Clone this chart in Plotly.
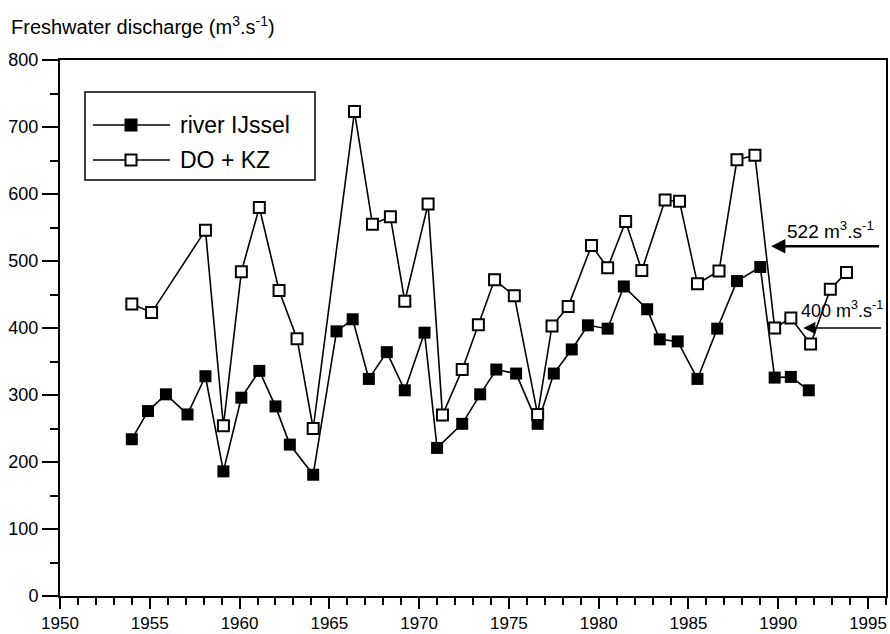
import plotly.graph_objects as go

# river IJssel (filled squares)
ijssel_year = [1954.0, 1954.9, 1955.9, 1957.1, 1958.1, 1959.1, 1960.1, 1961.1, 1962.0, 1962.8,
               1964.1, 1965.4, 1966.3, 1967.2, 1968.2, 1969.2, 1970.3, 1971.0, 1972.4, 1973.4,
               1974.3, 1975.4, 1976.6, 1977.5, 1978.5, 1979.4, 1980.5, 1981.4, 1982.7, 1983.4,
               1984.4, 1985.5, 1986.6, 1987.7, 1989.0, 1989.8, 1990.7, 1991.7]
ijssel_flow = [234, 276, 301, 271, 328, 186, 296, 336, 283, 226,
               181, 395, 413, 324, 364, 307, 393, 221, 257, 301,
               338, 332, 257, 332, 368, 404, 399, 462, 428, 383,
               380, 324, 399, 470, 491, 326, 327, 307]

# DO + KZ (open squares)
dokz_year = [1954.0, 1955.1, 1958.1, 1959.1, 1960.1, 1961.1, 1962.2, 1963.2, 1964.1, 1966.4,
             1967.4, 1968.4, 1969.2, 1970.5, 1971.3, 1972.4, 1973.3, 1974.2, 1975.3, 1976.6,
             1977.4, 1978.3, 1979.6, 1980.5, 1981.5, 1982.4, 1983.7, 1984.5, 1985.5, 1986.7,
             1987.7, 1988.7, 1989.8, 1990.7, 1991.8, 1992.9, 1993.8]
dokz_flow = [436, 423, 546, 254, 484, 580, 456, 384, 250, 723,
             555, 566, 440, 585, 270, 338, 405, 472, 448, 271,
             403, 432, 523, 490, 559, 486, 591, 589, 466, 485,
             651, 658, 400, 415, 376, 458, 483]

# reference levels marked by arrows
ref_levels = [522, 400]
ref_labels = ["522 m<sup>3</sup>.s<sup>-1</sup>", "400 m<sup>3</sup>.s<sup>-1</sup>"]

FONT = "Liberation Sans, Arial, Helvetica, sans-serif"

fig = go.Figure()

fig.add_trace(go.Scatter(
    x=ijssel_year, y=ijssel_flow, mode="lines+markers", name="river IJssel",
    line=dict(color="black", width=1.6),
    marker=dict(symbol="square", size=12, color="black"),
    showlegend=False,
))
fig.add_trace(go.Scatter(
    x=dokz_year, y=dokz_flow, mode="lines+markers", name="DO + KZ",
    line=dict(color="black", width=1.6),
    marker=dict(symbol="square", size=11, color="white", line=dict(color="black", width=2)),
    showlegend=False,
))

# hand-drawn style legend (pixel positions converted to paper coords)
def px(x):
    return (x - 60) / 826

def py(y):
    return (596 - y) / 536

shapes = [dict(type="rect", xref="paper", yref="paper", x0=px(85), x1=px(315), y0=py(180), y1=py(92),
               line=dict(color="black", width=1.5), fillcolor="white", layer="above")]
for row_y, filled in [(125, True), (160, False)]:
    shapes.append(dict(type="line", xref="paper", yref="paper", x0=px(93), x1=px(170),
                       y0=py(row_y), y1=py(row_y), line=dict(color="black", width=1.6), layer="above"))
    half = 6.5 if filled else 5.5
    shapes.append(dict(type="rect", xref="paper", yref="paper", xsizemode="pixel", ysizemode="pixel",
                       xanchor=px(131), yanchor=py(row_y), x0=-half, x1=half, y0=-half, y1=half,
                       fillcolor="black" if filled else "white",
                       line=dict(color="black", width=0 if filled else 2), layer="above"))

annotations = [
    dict(xref="paper", yref="paper", x=px(178), y=py(125), text="river IJssel", showarrow=False,
         xanchor="left", yanchor="middle", font=dict(size=23, color="black", family=FONT)),
    dict(xref="paper", yref="paper", x=px(178), y=py(160), text="DO + KZ", showarrow=False,
         xanchor="left", yanchor="middle", font=dict(size=23, color="black", family=FONT)),
    # arrows
    dict(x=1989.6, y=ref_levels[0], ax=1995.7, ay=ref_levels[0], xref="x", yref="y", axref="x", ayref="y",
         text="", showarrow=True, arrowhead=2, arrowsize=1.1, arrowwidth=2.6, arrowcolor="black"),
    dict(x=1991.4, y=ref_levels[1], ax=1995.8, ay=ref_levels[1], xref="x", yref="y", axref="x", ayref="y",
         text="", showarrow=True, arrowhead=2, arrowsize=1.6, arrowwidth=1.5, arrowcolor="black"),
    dict(x=1992.9, y=ref_levels[0] + 4, xref="x", yref="y", text=ref_labels[0], showarrow=False,
         xanchor="center", yanchor="bottom", font=dict(size=19, color="black", family=FONT)),
    dict(x=1993.55, y=ref_levels[1] + 8, xref="x", yref="y", text=ref_labels[1], showarrow=False,
         xanchor="center", yanchor="bottom", font=dict(size=18, color="black", family=FONT)),
]

fig.update_layout(
    width=890, height=634,
    margin=dict(l=60, r=4, t=60, b=38),
    paper_bgcolor="white", plot_bgcolor="white",
    font=dict(family=FONT, size=18, color="black"),
    title=dict(text="Freshwater discharge (m<sup>3</sup>.s<sup>-1</sup>)", x=11 / 890, xanchor="left",
               y=1 - 27 / 634, yanchor="middle", font=dict(size=20, family=FONT, color="black")),
    shapes=shapes, annotations=annotations,
)

fig.update_xaxes(
    range=[1950, 1996], tick0=1950, dtick=5, ticks="outside", ticklen=11, tickwidth=2, tickcolor="black",
    showline=True, mirror=True, linewidth=2, linecolor="black", showgrid=False, zeroline=False,
    minor=dict(dtick=1, ticks="outside", ticklen=7, tickwidth=1.5, tickcolor="black"),
    tickfont=dict(size=17), automargin=False,
)
fig.update_yaxes(
    range=[0, 800], tick0=0, dtick=100, ticks="outside", ticklen=16, tickwidth=2, tickcolor="black",
    showline=True, mirror=True, linewidth=2, linecolor="black", showgrid=False, zeroline=False,
    minor=dict(dtick=50, ticks="outside", ticklen=8, tickwidth=1.5, tickcolor="black"),
    tickfont=dict(size=18), automargin=False,
)

# the page's default body margin would push the 890x634 figure off the window
fig.write_html("out.html", config={"displayModeBar": False},
               post_script="document.body.style.margin='0';document.body.style.overflow='hidden';")
